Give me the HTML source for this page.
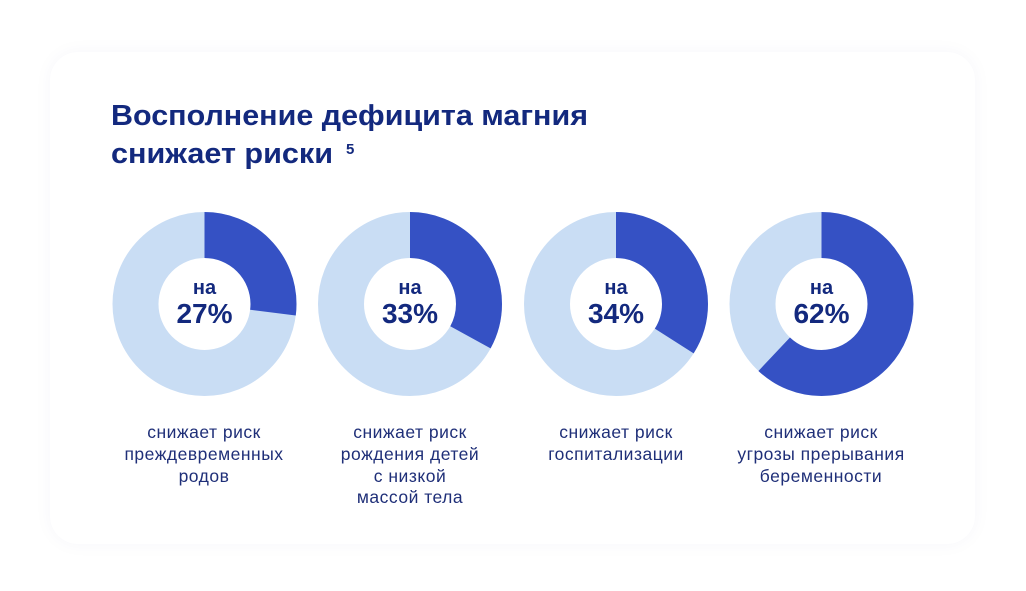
<!DOCTYPE html>
<html><head><meta charset="utf-8"><style>
body{margin:0;width:1026px;height:591px;background:#fff;overflow:hidden;font-family:"Liberation Sans","DejaVu Sans",sans-serif;}
.card{position:absolute;left:50px;top:52px;width:925px;height:492px;border-radius:28px;background:#fff;box-shadow:0 0 18px rgba(40,60,120,0.04);}
svg{position:absolute;left:0;top:0}
.t{font-weight:bold;fill:#13297e}
.l{fill:#1f2f78;font-size:17.5px;letter-spacing:0.5px}
</style></head><body>
<div class="card"></div>
<svg width="1026" height="591" viewBox="0 0 1026 591">
<text x="111" y="125" class="t" font-size="28.5" textLength="477" lengthAdjust="spacingAndGlyphs">Восполнение дефицита магния</text>
<text x="111" y="163" class="t" font-size="28.5" textLength="222" lengthAdjust="spacingAndGlyphs">снижает риски</text>
<text x="346" y="154" class="t" font-size="15">5</text>
<g transform="translate(204.5,304)">
<circle r="69" fill="none" stroke="#c9ddf4" stroke-width="46"/>
<circle r="69" fill="none" stroke="#3551c4" stroke-width="46" stroke-dasharray="117.05 500" transform="rotate(-90)"/>
<text y="-10" text-anchor="middle" class="t" font-size="20">на</text>
<text y="19" text-anchor="middle" class="t" font-size="28">27%</text>
</g>
<g transform="translate(410,304)">
<circle r="69" fill="none" stroke="#c9ddf4" stroke-width="46"/>
<circle r="69" fill="none" stroke="#3551c4" stroke-width="46" stroke-dasharray="143.07 500" transform="rotate(-90)"/>
<text y="-10" text-anchor="middle" class="t" font-size="20">на</text>
<text y="19" text-anchor="middle" class="t" font-size="28">33%</text>
</g>
<g transform="translate(616,304)">
<circle r="69" fill="none" stroke="#c9ddf4" stroke-width="46"/>
<circle r="69" fill="none" stroke="#3551c4" stroke-width="46" stroke-dasharray="147.40 500" transform="rotate(-90)"/>
<text y="-10" text-anchor="middle" class="t" font-size="20">на</text>
<text y="19" text-anchor="middle" class="t" font-size="28">34%</text>
</g>
<g transform="translate(821.5,304)">
<circle r="69" fill="none" stroke="#c9ddf4" stroke-width="46"/>
<circle r="69" fill="none" stroke="#3551c4" stroke-width="46" stroke-dasharray="268.79 500" transform="rotate(-90)"/>
<text y="-10" text-anchor="middle" class="t" font-size="20">на</text>
<text y="19" text-anchor="middle" class="t" font-size="28">62%</text>
</g>
<g text-anchor="middle" class="l">
<text x="204" y="438">снижает риск</text>
<text x="204" y="460">преждевременных</text>
<text x="204" y="482">родов</text>
<text x="410" y="438">снижает риск</text>
<text x="410" y="460">рождения детей</text>
<text x="410" y="482">с низкой</text>
<text x="410" y="503">массой тела</text>
<text x="616" y="438">снижает риск</text>
<text x="616" y="460">госпитализации</text>
<text x="821" y="438">снижает риск</text>
<text x="821" y="460">угрозы прерывания</text>
<text x="821" y="482">беременности</text>
</g>
</svg>
</body></html>
